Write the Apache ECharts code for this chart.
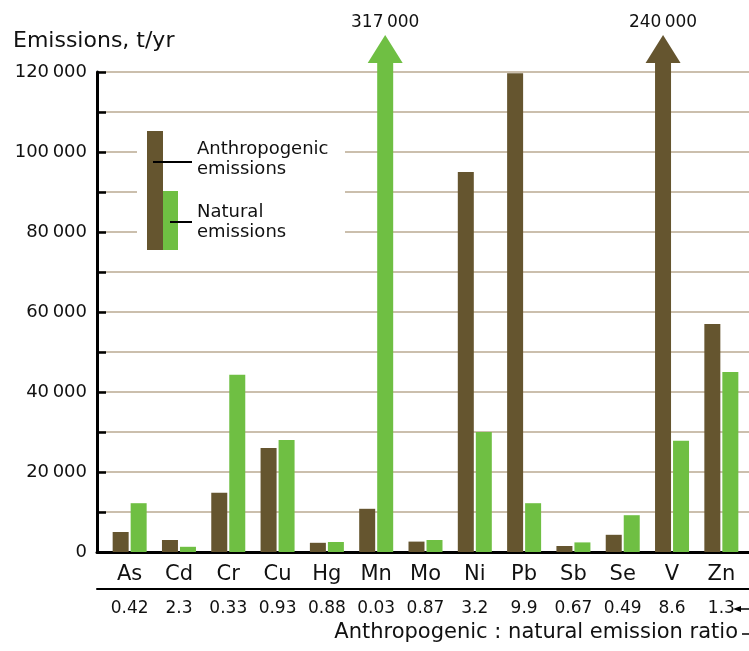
<!DOCTYPE html>
<html>
<head>
<meta charset="utf-8">
<script src="https://cdn.jsdelivr.net/npm/echarts@6/dist/echarts.min.js"></script>
<style>html,body{margin:0;padding:0;background:#fff;}#c{width:749px;height:651px;}</style>
</head>
<body>
<div id="c"></div>
<script>
const categories = ['As','Cd','Cr','Cu','Hg','Mn','Mo','Ni','Pb','Sb','Se','V','Zn'];
const anthropogenic = [5000, 3000, 14800, 26000, 2300, 10800, 2600, 95000, 119700, 1500, 4300, 240000, 57000];
const natural = [12200, 1300, 44300, 28000, 2500, 317000, 3000, 30000, 12200, 2400, 9200, 27800, 45000];
const ratios = ['0.42','2.3','0.33','0.93','0.88','0.03','0.87','3.2','9.9','0.67','0.49','8.6','1.3'];
const yTickLabels = [0, 20000, 40000, 60000, 80000, 100000, 120000];

const Y_MAX = 120000;
const ARROW_CAP = 122250;
const FONT = 'DejaVu Sans';
const ANTH = '#65552f';
const NAT = '#6fbf43';

const fmt = v => String(v).replace(/\B(?=(\d{3})+(?!\d))/g, '\u2009');

function arrows(values) {
  return values.map((v, i) => v > Y_MAX ? { value: [i, ARROW_CAP], real: v } : null).filter(Boolean);
}

const chart = echarts.init(document.getElementById('c'), null, { renderer: 'canvas' });
chart.setOption({
  animation: false,
  textStyle: { fontFamily: FONT, color: '#111' },
  grid: [
    { left: 105, width: 641, top: 72, height: 480 },
    { left: 97, right: 0, top: 72, height: 480 }
  ],
  xAxis: [
    { gridIndex: 0, type: 'category', data: categories,
      axisLine: { show: false }, axisTick: { show: false },
      axisLabel: { interval: 0, hideOverlap: false, fontFamily: FONT, fontSize: 21, color: '#111', margin: 12 } },
    { gridIndex: 0, type: 'category', data: ratios, position: 'bottom', offset: 37,
      axisLine: { show: false }, axisTick: { show: false },
      axisLabel: { interval: 0, hideOverlap: false, fontFamily: FONT, fontSize: 17, color: '#111', margin: 11 } },
    { gridIndex: 1, type: 'value', min: 0, max: 1,
      axisLine: { show: true, lineStyle: { color: '#000', width: 3 } },
      axisTick: { show: false }, axisLabel: { show: false }, splitLine: { show: false } },
    { gridIndex: 1, type: 'value', min: 0, max: 1, position: 'bottom', offset: 37,
      axisLine: { show: true, lineStyle: { color: '#000', width: 2 } },
      axisTick: { show: false }, axisLabel: { show: false }, splitLine: { show: false } }
  ],
  yAxis: [
    { gridIndex: 1, type: 'value', min: 0, max: Y_MAX, interval: 10000,
      axisLine: { show: true, lineStyle: { color: '#000', width: 3 } },
      axisTick: { show: true, inside: true, length: 9, lineStyle: { color: '#000', width: 2.5 } },
      axisLabel: { fontFamily: FONT, fontSize: 18, color: '#111', margin: 10,
        formatter: v => yTickLabels.indexOf(v) >= 0 ? fmt(v) : '' },
      splitLine: { show: true, lineStyle: { color: '#cbbfad', width: 2 } } },
    { gridIndex: 0, type: 'value', min: 0, max: Y_MAX, interval: 10000, show: false }
  ],
  series: [
    { name: 'Anthropogenic emissions', type: 'bar', xAxisIndex: 0, yAxisIndex: 1,
      data: anthropogenic.map(v => Math.min(v, ARROW_CAP)), barWidth: 16, barGap: '12.5%',
      clip: false, itemStyle: { color: ANTH } },
    { name: 'Natural emissions', type: 'bar', xAxisIndex: 0, yAxisIndex: 1,
      data: natural.map(v => Math.min(v, ARROW_CAP)), barWidth: 16, barGap: '12.5%',
      clip: false, itemStyle: { color: NAT } },
    { type: 'scatter', xAxisIndex: 0, yAxisIndex: 1, clip: false, z: 5,
      data: arrows(anthropogenic), symbol: 'triangle', symbolSize: [35, 28], symbolOffset: [-9, -14],
      itemStyle: { color: ANTH, opacity: 1 },
      label: { show: true, position: 'top', distance: 4, fontFamily: FONT, fontSize: 17, color: '#111',
        formatter: p => fmt(p.data.real) } },
    { type: 'scatter', xAxisIndex: 0, yAxisIndex: 1, clip: false, z: 5,
      data: arrows(natural), symbol: 'triangle', symbolSize: [35, 28], symbolOffset: [9, -14],
      itemStyle: { color: NAT, opacity: 1 },
      label: { show: true, position: 'top', distance: 4, fontFamily: FONT, fontSize: 17, color: '#111',
        formatter: p => fmt(p.data.real) } }
  ],
  graphic: [
    { type: 'text', left: 13, top: 30, style: { text: 'Emissions, t/yr', font: '22px "DejaVu Sans"', fill: '#111' } },
    { type: 'rect', shape: { x: 137, y: 122, width: 208, height: 130 }, style: { fill: '#fff' }, z: 10 },
    { type: 'rect', shape: { x: 147, y: 131, width: 16, height: 119 }, style: { fill: ANTH }, z: 11 },
    { type: 'rect', shape: { x: 163, y: 191, width: 15, height: 59 }, style: { fill: NAT }, z: 11 },
    { type: 'line', shape: { x1: 153, y1: 162, x2: 192, y2: 162 }, style: { stroke: '#000', lineWidth: 2 }, z: 12 },
    { type: 'line', shape: { x1: 170, y1: 222, x2: 192, y2: 222 }, style: { stroke: '#000', lineWidth: 2 }, z: 12 },
    { type: 'text', x: 197, y: 139, z: 12, style: { text: 'Anthropogenic\nemissions', font: '18px "DejaVu Sans"', lineHeight: 20, fill: '#111' } },
    { type: 'text', x: 197, y: 202, z: 12, style: { text: 'Natural\nemissions', font: '18px "DejaVu Sans"', lineHeight: 20, fill: '#111' } },
    { type: 'text', x: 738, y: 633, z: 12, style: { text: 'Anthropogenic : natural emission ratio', font: '21px "DejaVu Sans"', fill: '#111', align: 'right', verticalAlign: 'middle' } },
    { type: 'line', shape: { x1: 742, y1: 634, x2: 749, y2: 634 }, style: { stroke: '#000', lineWidth: 1.5 }, z: 12 },
    { type: 'polygon', shape: { points: [[733, 609], [741, 606], [741, 612]] }, style: { fill: '#000' }, z: 12 },
    { type: 'line', shape: { x1: 740, y1: 609, x2: 749, y2: 609 }, style: { stroke: '#000', lineWidth: 1.5 }, z: 12 }
  ]
});
</script>
</body>
</html>
